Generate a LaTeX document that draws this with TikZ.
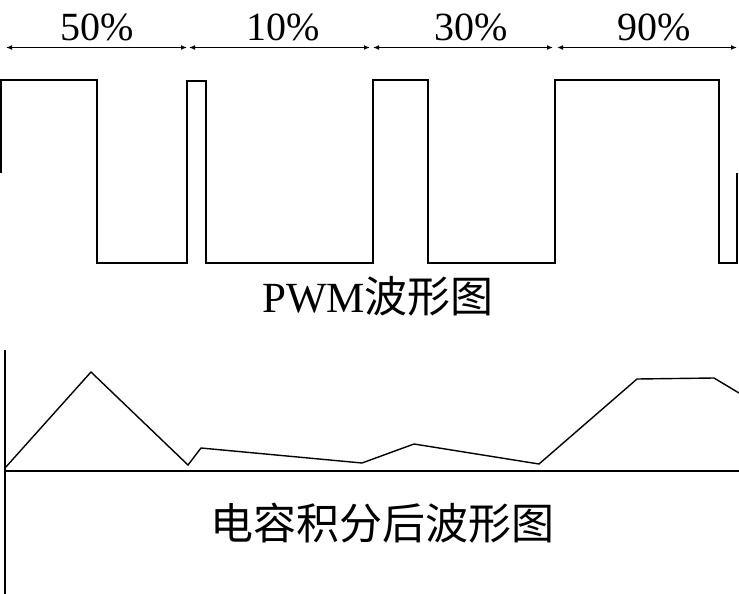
\documentclass[tikz,border=0pt]{standalone}
\usepackage{fontspec}
\setmainfont{Liberation Serif}
\newfontfamily\cjk{Noto Sans CJK SC}
\usetikzlibrary{arrows.meta}
\begin{document}
\begin{tikzpicture}[x=0.5pt,y=-0.5pt,
  pct/.style={font=\fontsize{20}{24}\selectfont, anchor=base, inner sep=0pt},
  caption/.style={font=\fontsize{21.5}{26}\selectfont, inner sep=0pt},
  dim/.style={draw, line width=0.7pt, {Latex[length=3pt,width=2.4pt]}-{Latex[length=3pt,width=2.4pt]}},
  wave/.style={draw, line width=1pt, line join=miter},
  axis/.style={draw, line width=1pt}]
\useasboundingbox (0,0) rectangle (739,594);
% duty cycle spans
\coordinate (a0) at (6,47.5);
\coordinate (a1) at (187,47.5);
\coordinate (b0) at (189,47.5);
\coordinate (b1) at (370,47.5);
\coordinate (c0) at (373,47.5);
\coordinate (c1) at (553,47.5);
\coordinate (d0) at (557,47.5);
\coordinate (d1) at (737,47.5);
\path[dim] (a0) -- (a1);
\path[dim] (b0) -- (b1);
\path[dim] (c0) -- (c1);
\path[dim] (d0) -- (d1);
\node[pct] (p50) at (97,40) {50\%};
\node[pct] (p10) at (283,40) {10\%};
\node[pct] (p30) at (471,40) {30\%};
\node[pct] (p90) at (654,40) {90\%};
% PWM waveform
\path[wave] (1,173) -- (1,80) -- (97,80) -- (97,263) -- (187,263) -- (187,81)
  -- (206,81) -- (206,263) -- (373,263) -- (373,80) -- (428,80) -- (428,263)
  -- (555,263) -- (555,80) -- (719,80) -- (719,263) -- (737,263) -- (737,173);
\node[caption] (pwm) at (378,296) {PWM{\cjk 波形图}};
% integrated waveform
\path[axis] (5,350) -- (5,594);
\path[axis] (5,471) -- (739,471);
\path[draw, line width=0.7pt, line join=miter] (5,468) -- (91,372) -- (188,465)
  -- (201,448) -- (362,463) -- (414,444) -- (539,464) -- (637,379)
  -- (714,378) -- (739,393);
\node[caption] (cap) at (382,523) {\cjk 电容积分后波形图};
\end{tikzpicture}
\end{document}
